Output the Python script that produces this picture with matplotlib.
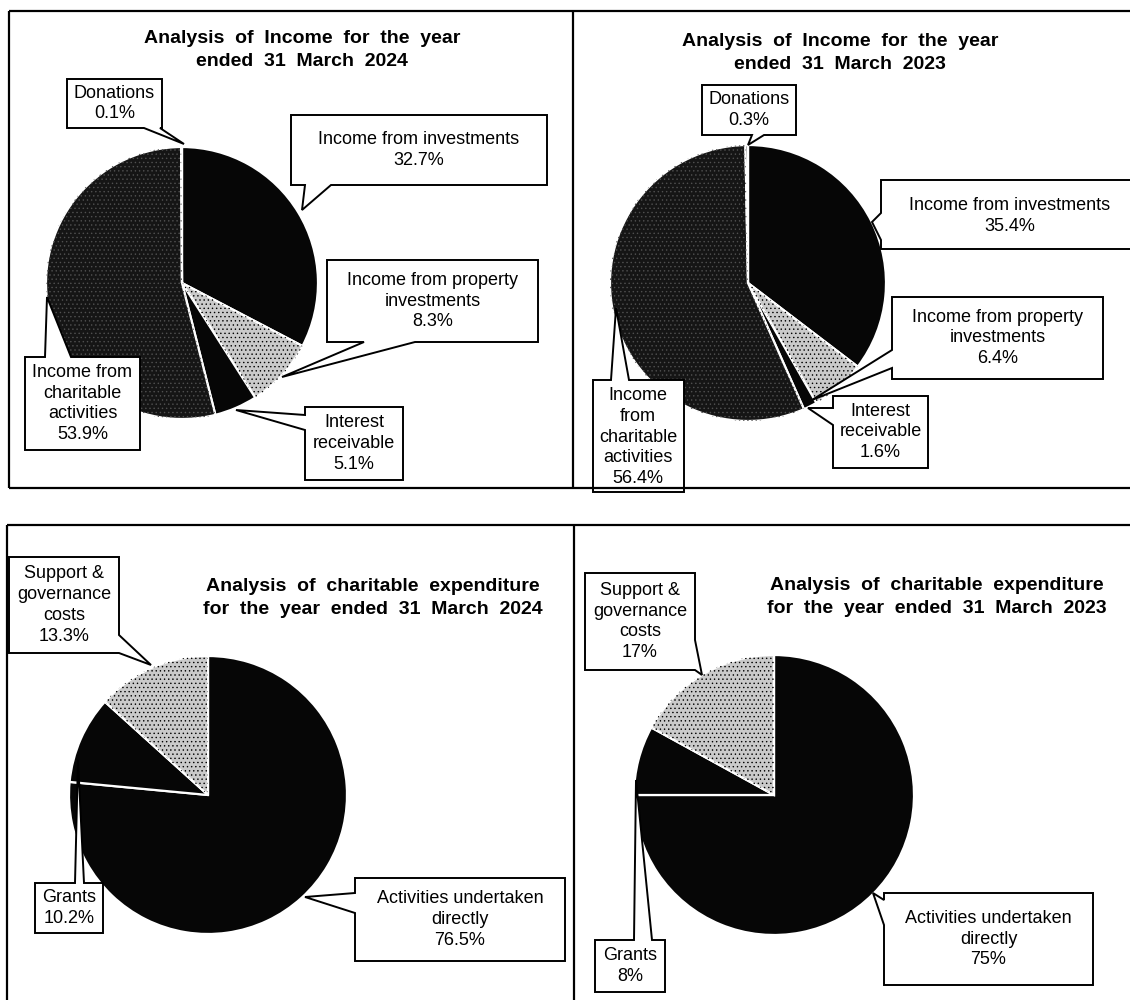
import matplotlib
matplotlib.use("Agg")
import matplotlib.pyplot as plt
from matplotlib.patches import Polygon, Wedge

plt.rcParams['font.family'] = ['Liberation Sans', 'DejaVu Sans']
plt.rcParams['hatch.linewidth'] = 0.5

# ---------------- data ----------------
income_keys = ["Income from investments", "Income from property investments",
               "Interest receivable", "Income from charitable activities", "Donations"]
income_2024 = [32.7, 8.3, 5.1, 53.9, 0.1]
income_2023 = [35.4, 6.4, 1.6, 56.4, 0.3]
income_text_2024 = ["Income from investments", "Income from property\ninvestments",
                    "Interest\nreceivable", "Income from\ncharitable\nactivities", "Donations"]
income_text_2023 = ["Income from investments", "Income from property\ninvestments",
                    "Interest\nreceivable", "Income\nfrom\ncharitable\nactivities", "Donations"]

expend_keys = ["Activities undertaken directly", "Grants", "Support & governance costs"]
expend_2024 = [76.5, 10.2, 13.3]
expend_2023 = [75, 8, 17]
expend_text = ["Activities undertaken\ndirectly", "Grants", "Support &\ngovernance\ncosts"]

titles = ["Analysis  of  Income  for  the  year\nended  31  March  2024",
          "Analysis  of  Income  for  the  year\nended  31  March  2023",
          "Analysis  of  charitable  expenditure\nfor  the  year  ended  31  March  2024",
          "Analysis  of  charitable  expenditure\nfor  the  year  ended  31  March  2023"]

# ---------------- styles ----------------
BLACK = "#060606"
DARK = "#151515"
LIGHT = "#cacaca"
income_colors = [BLACK, LIGHT, BLACK, DARK, DARK]
income_tex = [None, ("....", "black"), None, ("....", "#505050"), None]
expend_colors = [BLACK, BLACK, LIGHT]
expend_tex = [None, None, ("....", "black")]

W, H = 1130, 1000
fig = plt.figure(figsize=(11.3, 10), dpi=100)
ax = fig.add_axes([0, 0, 1, 1])


def Y(y):
    return H - y


def draw_pie(values, colors, textures, cx, cy, r):
    wedges, _ = ax.pie(values, colors=colors, startangle=90, counterclock=False,
                       center=(cx, Y(cy)), radius=r, normalize=True,
                       wedgeprops=dict(edgecolor="white", linewidth=1.6))
    for w, tex in zip(wedges, textures):
        if tex:
            hatch, hcol = tex
            ax.add_patch(Wedge(w.center, w.r, w.theta1, w.theta2, fill=False,
                               hatch=hatch, edgecolor=hcol, linewidth=0, zorder=1.5))
    return wedges


def fmt(v):
    return f"{v:g}%"


def callout(box, side, base, tip, text, center=None, fs=13):
    x0, y0, x1, y1 = box
    b0, b1 = sorted(base)
    tx, ty = tip
    pts = [(x0, y0)]
    if side == "top":
        pts += [(b0, y0), (tx, ty), (b1, y0)]
    pts += [(x1, y0)]
    if side == "right":
        pts += [(x1, b0), (tx, ty), (x1, b1)]
    pts += [(x1, y1)]
    if side == "bottom":
        pts += [(b1, y1), (tx, ty), (b0, y1)]
    pts += [(x0, y1)]
    if side == "left":
        pts += [(x0, b1), (tx, ty), (x0, b0)]
    ax.add_patch(Polygon([(x, Y(y)) for x, y in pts], closed=True, fc="white",
                         ec="black", lw=1.4, joinstyle="miter", zorder=3))
    cx, cy = center if center else ((x0 + x1) / 2, (y0 + y1) / 2)
    ax.text(cx, Y(cy), text, ha="center", va="center", fontsize=fs,
            linespacing=1.3, zorder=4)


# ---------------- pies ----------------
draw_pie(income_2024, income_colors, income_tex, 182, 283, 136)
draw_pie(income_2023, income_colors, income_tex, 748, 283, 138)
draw_pie(expend_2024, expend_colors, expend_tex, 208, 795, 139)
draw_pie(expend_2023, expend_colors, expend_tex, 774, 795, 140)

# ---------------- callouts ----------------
# income 2024
L = [(t + "\n" + fmt(v)) for t, v in zip(income_text_2024, income_2024)]
callout((291, 115, 547, 185), "bottom", (305, 331), (302, 210), L[0])
callout((327, 260, 538, 342), "bottom", (364, 415), (282, 377), L[1])
callout((305, 407, 403, 480), "left", (415, 430), (236, 410), L[2])
callout((25, 357, 140, 450), "top", (45, 71), (47, 297), L[3])
callout((67, 79, 162, 128), "bottom", (144, 160), (184, 144), L[4])

# income 2023
L = [(t + "\n" + fmt(v)) for t, v in zip(income_text_2023, income_2023)]
callout((881, 180, 1140, 249), "left", (213, 240), (872, 222), L[0], center=(1010, 216))
callout((892, 297, 1103, 379), "left", (350, 368), (812, 400), L[1])
callout((833, 396, 928, 468), "left", (408, 425), (808, 408), L[2])
callout((593, 380, 684, 492), "top", (611, 629), (616, 308), L[3], center=(638, 437))
callout((702, 85, 796, 135), "bottom", (752, 764), (748, 145), L[4])

# expenditure 2024
L = [(t + "\n" + fmt(v)) for t, v in zip(expend_text, expend_2024)]
callout((355, 878, 565, 961), "left", (893, 913), (305, 897), L[0])
callout((35, 883, 103, 933), "top", (75, 84), (78, 760), L[1])
callout((9, 557, 119, 653), "right", (635, 653), (151, 665), L[2])

# expenditure 2023
L = [(t + "\n" + fmt(v)) for t, v in zip(expend_text, expend_2023)]
callout((884, 893, 1093, 985), "left", (900, 925), (873, 893), L[0])
callout((595, 940, 665, 992), "top", (634, 652), (636, 780), L[1])
callout((585, 573, 695, 670), "right", (640, 670), (702, 675), L[2])

# ---------------- titles ----------------
title_pos = [(302, 50), (840, 53), (373, 598), (937, 597)]
for (tx, ty), t in zip(title_pos, titles):
    ax.text(tx, Y(ty), t, ha="center", va="center", fontsize=14,
            fontweight="bold", linespacing=1.45, zorder=4)

# ---------------- panel borders ----------------
border = dict(color="black", lw=1.6, zorder=5, solid_capstyle="butt")
ax.plot([9, 1130], [Y(11), Y(11)], **border)
ax.plot([9, 1130], [Y(488), Y(488)], **border)
ax.plot([9, 9], [Y(11), Y(488)], **border)
ax.plot([573, 573], [Y(11), Y(488)], **border)
ax.plot([7, 1130], [Y(525), Y(525)], **border)
ax.plot([7, 7], [Y(525), Y(1000)], **border)
ax.plot([574, 574], [Y(525), Y(1000)], **border)

ax.set_xlim(0, W)
ax.set_ylim(0, H)
ax.set_aspect("equal")
ax.axis("off")
fig.savefig("out.png", dpi=100, facecolor="white")
